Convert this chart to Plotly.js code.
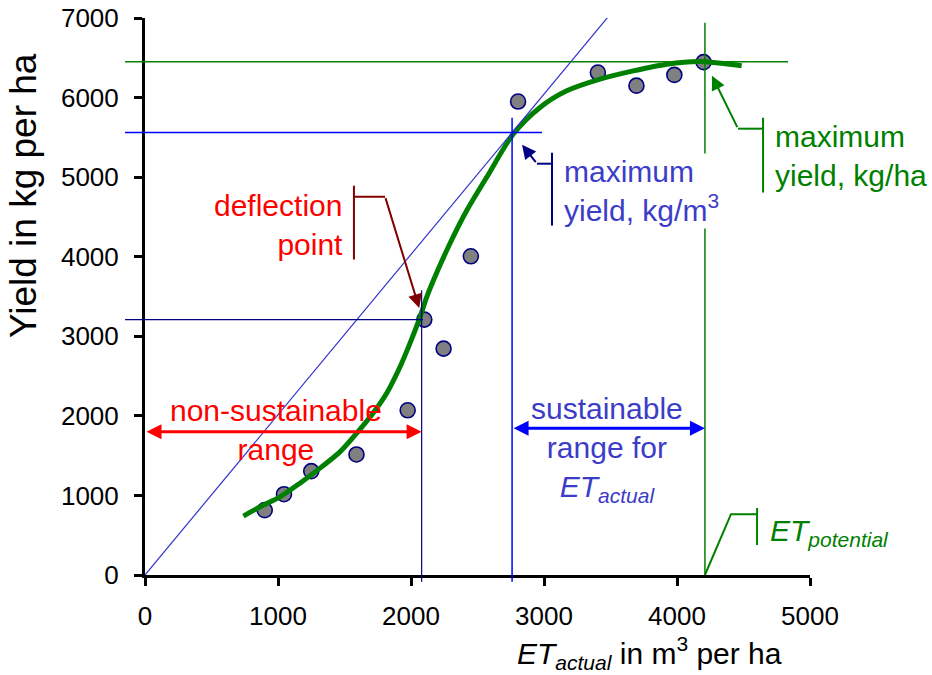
<!DOCTYPE html>
<html><head><meta charset="utf-8">
<script src="https://cdn.plot.ly/plotly-3.0.1.min.js"></script>
<style>html,body{margin:0;padding:0;background:#fff}#chart{width:932px;height:675px}</style>
</head><body><div id="chart"></div>
<script>
// observed ET_actual (m3/ha) and yield (kg/ha)
const etActual = [900, 1045, 1250, 1590, 1975, 2100, 2245, 2450, 2805, 3405, 3695, 3980, 4200];
const yieldObs = [815, 1015, 1305, 1515, 2070, 3210, 2845, 4005, 5950, 6315, 6150, 6285, 6445];
// fitted production curve
const fitEt = [740, 865, 1015, 1165, 1316, 1466, 1592, 1714, 1817, 1917, 1992, 2068, 2118, 2168, 2293, 2419, 2569, 2769, 2970, 3171, 3421, 3671, 3923, 4173, 4486];
const fitYield = [740, 857, 982, 1154, 1343, 1547, 1782, 2032, 2284, 2614, 2911, 3241, 3492, 3701, 4166, 4580, 4998, 5542, 5876, 6085, 6232, 6336, 6420, 6453, 6399];
const xTickVals = [0, 1000, 2000, 3000, 4000, 5000];
const yTickVals = [0, 1000, 2000, 3000, 4000, 5000, 6000, 7000];
// key points
const deflection = {x: 2080, y: 3210};
const maxWue = {x: 2760, y: 5560};
const maxYield = {x: 4210, y: 6450};
const xMax = 5000, yMax = 7000;

const FONT = '"Liberation Sans", Arial, Helvetica, sans-serif';
const BLUE_TXT = '#3c3cc8';
const GREEN = '#008000';
const NAVY = '#000080';
const DRED = '#800000';
const FS = 30;

const traces = [
  {x: etActual, y: yieldObs, type: 'scatter', mode: 'markers', cliponaxis: false,
   marker: {size: 15, color: '#808080', line: {color: NAVY, width: 1.6}}, hoverinfo: 'skip'},
  {x: fitEt, y: fitYield, type: 'scatter', mode: 'lines',
   line: {color: GREEN, width: 5, shape: 'spline', smoothing: 0.8}, hoverinfo: 'skip'}
];

function ln(o){ return Object.assign({type: 'line', layer: 'above', xref: 'x', yref: 'y'}, o); }

const shapes = [
  // diagonal through origin and max WUE point
  ln({x0: 0, y0: 0, x1: 3500, y1: 3500 * maxWue.y / maxWue.x, line: {color: '#3333cc', width: 1.2}}),
  // max WUE cross lines
  ln({xref: 'paper', x0: -0.03, x1: 2985 / xMax, y0: maxWue.y, y1: maxWue.y, line: {color: '#0000ff', width: 1.5}}),
  ln({x0: maxWue.x, x1: maxWue.x, yref: 'paper', y0: -0.012, y1: 5746 / yMax, line: {color: '#0000ff', width: 1.5}}),
  // max yield cross lines
  ln({xref: 'paper', x0: -0.03, x1: 4835 / xMax, y0: maxYield.y, y1: maxYield.y, line: {color: GREEN, width: 1.5}}),
  ln({x0: maxYield.x, x1: maxYield.x, y0: 0, y1: 6940, line: {color: GREEN, width: 1.5}}),
  // deflection cross lines
  ln({xref: 'paper', x0: -0.03, x1: 2090 / xMax, y0: deflection.y, y1: deflection.y, line: {color: NAVY, width: 1.2}}),
  ln({x0: deflection.x, x1: deflection.x, yref: 'paper', y0: -0.012, y1: 3580 / yMax, line: {color: NAVY, width: 1.2}}),
  // callout: deflection point
  ln({x0: 1571, x1: 1571, y0: 3965, y1: 4893, line: {color: DRED, width: 2}}),
  ln({x0: 1571, x1: 1805, y0: 4755, y1: 4755, line: {color: DRED, width: 2}}),
  // callout: max yield kg/m3
  ln({x0: 3060, x1: 3060, y0: 4391, y1: 5307, line: {color: NAVY, width: 2}}),
  ln({x0: 3060, x1: 2947, y0: 5169, y1: 5169, line: {color: NAVY, width: 2}}),
  // callout: max yield kg/ha
  ln({x0: 4647, x1: 4647, y0: 4806, y1: 5747, line: {color: GREEN, width: 2}}),
  ln({x0: 4647, x1: 4459, y0: 5609, y1: 5609, line: {color: GREEN, width: 2}}),
  // callout: ET potential
  ln({x0: 4602, x1: 4602, y0: 376, y1: 841, line: {color: GREEN, width: 2}}),
  {type: 'path', layer: 'above', xref: 'x', yref: 'y', path: 'M 4602,765 L 4406,765 L ' + maxYield.x + ',0', line: {color: GREEN, width: 2}}
];

function txt(o){ return Object.assign({xref: 'x', yref: 'y', showarrow: false, font: {family: FONT, size: FS}}, o); }
function arr(o){ return Object.assign({xref: 'x', yref: 'y', axref: 'x', ayref: 'y', text: '', showarrow: true, standoff: 0, startstandoff: 0}, o); }

const annotations = [
  txt({x: 1504, y: 4398, xanchor: 'right', align: 'right', text: 'deflection<br>point', font: {family: FONT, size: FS, color: '#ff0000'}}),
  txt({x: 985, y: 1820, text: 'non-sustainable<br>range', font: {family: FONT, size: FS, color: '#ff0000'}}),
  txt({x: 3474, y: 1581, text: 'sustainable<br>range for<br><i>ET<sub>actual</sub></i>', font: {family: FONT, size: FS, color: BLUE_TXT}}),
  txt({x: 3135, y: 4824, xanchor: 'left', align: 'left', bgcolor: '#ffffff', text: 'maximum<br>yield, kg/m<sup>3</sup>', font: {family: FONT, size: FS, color: BLUE_TXT}}),
  txt({x: 4722, y: 5263, xanchor: 'left', align: 'left', text: 'maximum<br>yield, kg/ha', font: {family: FONT, size: FS, color: GREEN}}),
  txt({x: 4684, y: 540, xanchor: 'left', align: 'left', text: '<i>ET<sub>potential</sub></i>', font: {family: FONT, size: FS, color: GREEN}}),
  // range arrows
  arr({x: deflection.x, y: 1800, ax: 0, ay: 1800, arrowside: 'end+start', arrowhead: 2, arrowsize: 1, arrowwidth: 3, arrowcolor: '#ff0000'}),
  arr({x: maxYield.x, y: 1844, ax: maxWue.x, ay: 1844, arrowside: 'end+start', arrowhead: 2, arrowsize: 1, arrowwidth: 3, arrowcolor: '#0000ff'}),
  // callout pointers
  arr({x: 2062, y: 3354, ax: 1805, ay: 4755, arrowhead: 2, arrowsize: 1.4, arrowwidth: 2, arrowcolor: DRED}),
  arr({x: 2835, y: 5408, ax: 2947, ay: 5169, arrowhead: 2, arrowsize: 1.4, arrowwidth: 2, arrowcolor: NAVY}),
  arr({x: 4263, y: 6274, ax: 4459, ay: 5609, arrowhead: 2, arrowsize: 1.4, arrowwidth: 2, arrowcolor: GREEN}),
  // axis titles
  {xref: 'paper', yref: 'paper', x: 0.556, y: -0.14, xanchor: 'left', yanchor: 'middle', showarrow: false,
   text: '<i>ET<sub>actual</sub></i> in m<sup>3</sup> per ha', font: {family: FONT, size: 30, color: '#000'}},
  {xref: 'paper', yref: 'paper', x: -0.1835, y: 0.682, xanchor: 'center', yanchor: 'middle', showarrow: false, textangle: -90,
   text: 'Yield in kg per ha', font: {family: FONT, size: 37, color: '#000'}}
];

const axisCommon = {
  showline: true, linewidth: 3, linecolor: '#000', showgrid: false, zeroline: false,
  ticks: 'outside', ticklen: 8, tickwidth: 3, tickcolor: '#000',
  tickfont: {family: FONT, size: 26, color: '#000'}, fixedrange: true
};

const layout = {
  width: 932, height: 675,
  margin: {l: 145, r: 122, t: 18, b: 100, pad: 0},
  paper_bgcolor: '#ffffff', plot_bgcolor: '#ffffff',
  showlegend: false,
  font: {family: FONT, color: '#000'},
  xaxis: Object.assign({}, axisCommon, {range: [0, xMax], tickmode: 'array', tickvals: xTickVals, ticklabelstandoff: 8}),
  yaxis: Object.assign({}, axisCommon, {range: [0, yMax], tickmode: 'array', tickvals: yTickVals, ticklabelstandoff: 10}),
  shapes: shapes,
  annotations: annotations
};

Plotly.newPlot('chart', traces, layout, {staticPlot: true, displayModeBar: false});
</script>
</body></html>
